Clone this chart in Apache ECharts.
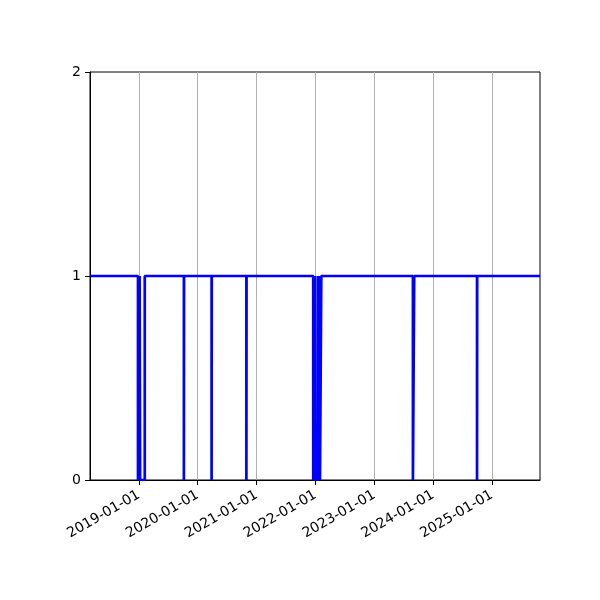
<!DOCTYPE html>
<html>
<head>
<meta charset="utf-8">
<script src="https://cdn.jsdelivr.net/npm/echarts@6/dist/echarts.min.js"></script>
<style>html,body{margin:0;padding:0;background:#fff;}#c{width:600px;height:600px;}</style>
</head>
<body>
<div id="c"></div>
<script>
const changeDates = ['2018-03-03','2018-12-26','2019-01-05','2019-01-08','2019-02-06','2019-10-07','2019-10-08','2020-03-27','2020-03-28','2020-10-29','2020-10-30','2021-12-18','2021-12-27','2021-12-30','2022-01-15','2022-01-19','2022-01-25','2022-01-29','2022-02-06','2023-08-29','2023-09-06','2024-09-30','2024-10-01','2025-10-26'];
const values = [1,0,1,0,1,0,1,0,1,0,1,0,1,0,1,0,1,0,1,0,1,0,1,1];
const tickYears = [2019,2020,2021,2022,2023,2024,2025];
const yTicks = [0,1,2];
const xRange = ['2018-03-03','2025-10-26'];

function parseDate(s){const p=s.split('-').map(Number);return new Date(p[0],p[1]-1,p[2]).getTime();}
function pad(n){return (n<10?'0':'')+n;}
const tickValues = tickYears.map(y=>new Date(y,0,1).getTime());
const seriesData = changeDates.map((d,i)=>[parseDate(d),values[i]]);

const chart = echarts.init(document.getElementById('c'));
const font = 'DejaVu Sans';
chart.setOption({
  animation:false,
  backgroundColor:'#fff',
  grid:{left:90,right:60,top:72,bottom:120,show:true,borderColor:'#000',borderWidth:1,backgroundColor:'transparent'},
  xAxis:{
    type:'value',scale:true,
    min:parseDate(xRange[0]),max:parseDate(xRange[1]),
    axisLine:{show:true,onZero:false,lineStyle:{color:'#000',width:1}},
    axisTick:{show:true,length:5,inside:false,lineStyle:{color:'#000',width:1},customValues:tickValues},
    axisLabel:{show:true,rotate:30,margin:14,fontFamily:font,fontSize:14,color:'#000',customValues:tickValues,
      formatter:function(v){const d=new Date(v);return d.getFullYear()+'-'+pad(d.getMonth()+1)+'-'+pad(d.getDate());}},
    splitLine:{show:true,lineStyle:{color:'#b0b0b0',width:1}}
  },
  yAxis:{
    type:'value',min:yTicks[0],max:yTicks[yTicks.length-1],interval:1,
    axisLine:{show:true,lineStyle:{color:'#000',width:1}},
    axisTick:{show:true,length:5,inside:false,lineStyle:{color:'#000'}},
    axisLabel:{fontFamily:font,fontSize:14,color:'#000',margin:9},
    splitLine:{show:false}
  },
  series:[{
    type:'line',step:'end',data:seriesData,showSymbol:false,symbol:'none',
    lineStyle:{color:'#0000ff',width:2.7},clip:true
  }]
});
</script>
</body>
</html>
